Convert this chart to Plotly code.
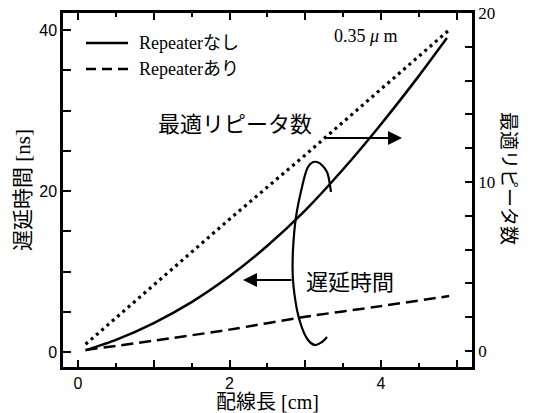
import plotly.graph_objects as go

# ---- data ----
wire_len = [0.1, 0.5, 1.0, 1.5, 2.0, 2.5, 3.0, 3.5, 4.0, 4.5, 4.87]
delay_no_rep = [0.2, 1.5, 3.6, 6.2, 9.4, 13.2, 17.6, 22.7, 28.3, 34.3, 39.0]

wire_len_rep = [0.1, 1.0, 2.0, 3.0, 4.0, 4.9]
delay_rep = [0.25, 1.4, 2.78, 4.38, 5.7, 6.95]

wire_len_cnt = [0.1, 1.0, 2.0, 3.0, 4.0, 4.9]
opt_repeaters = [0.4, 3.9, 7.8, 11.6, 15.5, 19.0]

x_tickvals = [0, 1, 2, 3, 4, 5]
x_ticktext = ["0", "", "2", "", "4", ""]
y_tickvals = [0, 5, 10, 15, 20, 25, 30, 35, 40]
y_ticktext = ["0", "", "", "", "20", "", "", "", "40"]
y2_tickvals = [0, 2, 4, 6, 8, 10, 12, 14, 16, 18, 20]
y2_ticktext = ["0", "", "", "", "", "10", "", "", "", "", "20"]

W, H = 536, 413
L, R, T, B = 63, 472, 13, 367  # plot-area pixel box


def px(x):
    return (x - L) / (R - L)


def py(y):
    return (B - y) / (B - T)


SERIF = "Liberation Serif, Noto Sans CJK JP"
SANS = "Liberation Sans, Arial"

fig = go.Figure()
fig.add_trace(go.Scatter(x=wire_len, y=delay_no_rep, mode="lines", name="Repeaterなし",
                         line=dict(color="black", width=2.5, shape="spline", smoothing=0.6)))
fig.add_trace(go.Scatter(x=wire_len_rep, y=delay_rep, mode="lines", name="Repeaterあり",
                         line=dict(color="black", width=2.5, dash="12px,6px", shape="spline",
                                   smoothing=0.5)))
fig.add_trace(go.Scatter(x=wire_len_cnt, y=opt_repeaters, mode="lines", name="最適リピータ数",
                         yaxis="y2", line=dict(color="black", width=3.2, dash="3px,4px")))

axis_common = dict(showline=True, linecolor="black", linewidth=2.5, showgrid=False,
                   zeroline=False, ticks="inside", tickcolor="black", automargin=False)

fig.update_layout(
    width=W, height=H,
    margin=dict(l=L, r=W - R, t=T, b=H - B),
    plot_bgcolor="white", paper_bgcolor="white",
    showlegend=False,
    xaxis=dict(**axis_common, range=[(L - 78) / 75.75, (R - 78) / 75.75],
               mirror="ticks", tickvals=x_tickvals, ticktext=x_ticktext,
               ticklen=7, tickwidth=2,
               minor=dict(dtick=0.5, ticklen=4, tickwidth=1.5, ticks="inside", tickcolor="black"),
               tickfont=dict(family=SANS, size=16, color="black"),
               title=dict(text="配線長 [cm]", font=dict(family=SERIF, size=20, color="black"),
                          standoff=2)),
    yaxis=dict(**axis_common, range=[(352 - B) / 8.05, (352 - T) / 8.05],
               tickvals=y_tickvals, ticktext=y_ticktext, ticklen=8, tickwidth=2,
               tickfont=dict(family=SANS, size=16, color="black"),
               title=dict(text="遅延時間 [ns]", font=dict(family=SERIF, size=21, color="black"),
                          standoff=3)),
    yaxis2=dict(**axis_common, overlaying="y", side="right",
                range=[(351 - B) / 16.9, (351 - T) / 16.9],
                tickvals=y2_tickvals, ticktext=y2_ticktext, ticklen=7, tickwidth=2,
                tickfont=dict(family=SERIF, size=17, color="black")),
)

# manual legend
fig.add_shape(type="line", xref="paper", yref="paper", x0=px(86), x1=px(128), y0=py(43), y1=py(43),
              line=dict(color="black", width=2.5))
fig.add_shape(type="line", xref="paper", yref="paper", x0=px(86), x1=px(128), y0=py(69), y1=py(69),
              line=dict(color="black", width=2.5, dash="10px,6px"))
fig.add_annotation(xref="paper", yref="paper", x=px(137), y=py(43), text="Repeaterなし",
                   showarrow=False, xanchor="left", yanchor="middle",
                   font=dict(family=SERIF, size=18, color="black"))
fig.add_annotation(xref="paper", yref="paper", x=px(137), y=py(69), text="Repeaterあり",
                   showarrow=False, xanchor="left", yanchor="middle",
                   font=dict(family=SERIF, size=18, color="black"))

fig.add_annotation(xref="paper", yref="paper", x=px(366), y=py(36), text="0.35 <i>μ</i> m",
                   showarrow=False, xanchor="center", yanchor="middle",
                   font=dict(family=SERIF, size=18, color="black"))

# right axis title (vertical, reading top to bottom)
fig.add_annotation(xref="paper", yref="paper", x=px(511), y=py(178), text="最適リピータ数",
                   showarrow=False, textangle=90, xanchor="center", yanchor="middle",
                   font=dict(family="Noto Sans CJK JP", size=19, color="black"))

# labels with arrows
fig.add_annotation(xref="paper", yref="paper", x=px(156), y=py(122), text="最適リピータ数",
                   showarrow=False, xanchor="left", yanchor="middle",
                   font=dict(family="Noto Sans CJK JP", size=22, color="black"))
fig.add_annotation(xref="paper", yref="paper", x=px(402), y=py(138), ax=-77, ay=0,
                   text="", showarrow=True, arrowhead=2, arrowsize=1.4, arrowwidth=2,
                   arrowcolor="black")
fig.add_annotation(xref="paper", yref="paper", x=px(304), y=py(280), text="遅延時間",
                   showarrow=False, xanchor="left", yanchor="middle",
                   font=dict(family="Noto Sans CJK JP", size=22, color="black"))
fig.add_annotation(xref="paper", yref="paper", x=px(243), y=py(280), ax=50, ay=0,
                   text="", showarrow=True, arrowhead=2, arrowsize=1.4, arrowwidth=2,
                   arrowcolor="black")

# the loop that links the two labels to the curves (smooth Catmull-Rom -> Bezier)
loop_px = [(331, 192), (327, 172), (317, 162), (308, 167), (302, 187), (296, 217),
           (293, 250), (293, 280), (297, 310), (302, 328), (308, 340), (315, 345),
           (322, 342), (327, 337)]
pts = [(px(a), py(b)) for a, b in loop_px]
segs = [f"M {pts[0][0]:.4f},{pts[0][1]:.4f}"]
for i in range(len(pts) - 1):
    p0 = pts[i - 1] if i > 0 else pts[i]
    p1, p2 = pts[i], pts[i + 1]
    p3 = pts[i + 2] if i + 2 < len(pts) else pts[i + 1]
    c1 = (p1[0] + (p2[0] - p0[0]) / 6, p1[1] + (p2[1] - p0[1]) / 6)
    c2 = (p2[0] - (p3[0] - p1[0]) / 6, p2[1] - (p3[1] - p1[1]) / 6)
    segs.append(f"C {c1[0]:.4f},{c1[1]:.4f} {c2[0]:.4f},{c2[1]:.4f} {p2[0]:.4f},{p2[1]:.4f}")
fig.add_shape(type="path", xref="paper", yref="paper", path=" ".join(segs),
              line=dict(color="black", width=2.2))

fig.write_html("out.html")
